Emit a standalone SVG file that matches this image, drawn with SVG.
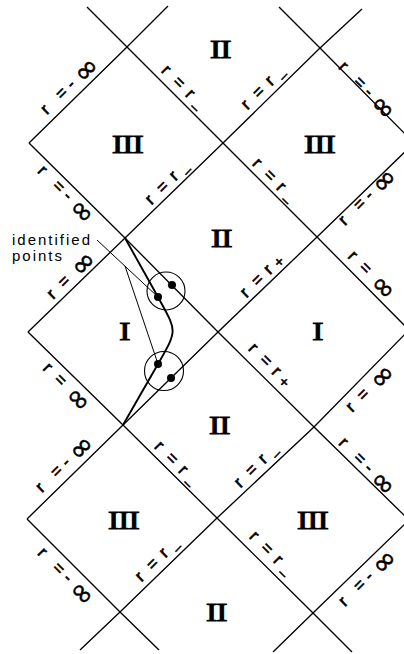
<svg xmlns="http://www.w3.org/2000/svg" width="404" height="654" viewBox="0 0 404 654">
<style>
.ln{fill:none;stroke:#000;stroke-width:1.35;stroke-linejoin:round}
.wl{fill:none;stroke:#000;stroke-width:1.9;stroke-linejoin:round}
.ld{fill:none;stroke:#000;stroke-width:1}
.cir{fill:none;stroke:#000;stroke-width:1.1}
.dot{fill:#000}
.lb{font-family:"Liberation Sans",Arial,sans-serif;font-size:17px;fill:#000;stroke:#000;stroke-width:0.6}
.inf{font-family:"DejaVu Sans",sans-serif;font-size:29px;stroke-width:0.5}
.sub{font-size:13px}
.plus{font-size:15px}
.rn{font-family:"Liberation Serif","Times New Roman",serif;font-size:25px;text-anchor:middle;letter-spacing:-1px;fill:#000;stroke:#000;stroke-width:0.8}
.note{font-family:"Liberation Sans",Arial,sans-serif;font-size:15px;letter-spacing:2px;fill:#000}
</style>
<rect width="404" height="654" fill="#fff"/>
<g id="connectors">
<polyline class="ln" points="29,143 127,47 168,6"/>
<polyline class="ln" points="28,332 125,238 223,143 320,48 362,9"/>
<polyline class="ln" points="27,519 123,425 218,332 317,237 414,143"/>
<polyline class="ln" points="80,650 120,612 217,518 314,427 409,330"/>
<polyline class="ln" points="273,652 313,613 409,520"/>
<polyline class="ln" points="87,7 127,47 223,143 317,237 409,330"/>
<polyline class="ln" points="29,143 125,238 218,332 314,427 409,520"/>
<polyline class="ln" points="28,332 123,425 217,518 313,613 352,652"/>
<polyline class="ln" points="27,519 120,612 159,650"/>
<polyline class="ln" points="279,7 320,48 414,143"/>
<path class="wl" d="M125,238 L158,297 C177,332 178,329 158,364 L123,425"/>
<path class="ld" d="M97,240 L158,297 M125,266 L158,364"/>
</g>
<g id="identified-points">
<circle class="cir" cx="166" cy="291" r="19"/>
<circle class="cir" cx="164" cy="371" r="19.5"/>
<circle class="dot" cx="158" cy="297" r="4"/>
<circle class="dot" cx="172" cy="285" r="4"/>
<circle class="dot" cx="158" cy="364" r="4"/>
<circle class="dot" cx="171" cy="378" r="4"/>
<text class="note" x="12" y="245">identified</text>
<text class="note" x="12" y="261">points</text>
</g>
<g id="regions">
<text class="rn" transform="translate(220,50) scale(1.4,1)" y="8">II</text>
<text class="rn" transform="translate(127,145) scale(1.4,1)" y="8">III</text>
<text class="rn" transform="translate(319,145) scale(1.4,1)" y="8">III</text>
<text class="rn" transform="translate(221,239) scale(1.4,1)" y="8">II</text>
<text class="rn" transform="translate(124,332) scale(1.4,1)" y="8">I</text>
<text class="rn" transform="translate(317,332) scale(1.4,1)" y="8">I</text>
<text class="rn" transform="translate(219,426) scale(1.4,1)" y="8">II</text>
<text class="rn" transform="translate(123,521) scale(1.4,1)" y="8">III</text>
<text class="rn" transform="translate(312,521) scale(1.4,1)" y="8">III</text>
<text class="rn" transform="translate(216,613) scale(1.4,1)" y="8">II</text>
</g>
<g id="labels">
<g transform="translate(68,87) rotate(-45)"><text class="lb" y="5"><tspan x="-34.8">r</tspan> <tspan x="-14">=</tspan> <tspan x="1.2">-</tspan><tspan class="inf" x="13" y="10">∞</tspan></text></g>
<g transform="translate(183,87) rotate(45)"><text class="lb" y="5"><tspan x="-26.8">r</tspan> <tspan x="-11">=</tspan> <tspan x="7.2">r</tspan><tspan class="sub" x="19.4">_</tspan></text></g>
<g transform="translate(263,88) rotate(-45)"><text class="lb" y="5"><tspan x="-26.8">r</tspan> <tspan x="-11">=</tspan> <tspan x="7.2">r</tspan><tspan class="sub" x="19.4">_</tspan></text></g>
<g transform="translate(366,89) rotate(45)"><text class="lb" y="5"><tspan x="-34.8">r</tspan> <tspan x="-14">=</tspan> <tspan x="1.2">-</tspan><tspan class="inf" x="13" y="10">∞</tspan></text></g>
<g transform="translate(65,193) rotate(45)"><text class="lb" y="5"><tspan x="-34.8">r</tspan> <tspan x="-14">=</tspan> <tspan x="1.2">-</tspan><tspan class="inf" x="13" y="10">∞</tspan></text></g>
<g transform="translate(167,183) rotate(-45)"><text class="lb" y="5"><tspan x="-26.8">r</tspan> <tspan x="-11">=</tspan> <tspan x="7.2">r</tspan><tspan class="sub" x="19.4">_</tspan></text></g>
<g transform="translate(274,180) rotate(45)"><text class="lb" y="5"><tspan x="-26.8">r</tspan> <tspan x="-11">=</tspan> <tspan x="7.2">r</tspan><tspan class="sub" x="19.4">_</tspan></text></g>
<g transform="translate(366,198) rotate(-45)"><text class="lb" y="5"><tspan x="-34.8">r</tspan> <tspan x="-14">=</tspan> <tspan x="1.2">-</tspan><tspan class="inf" x="13" y="10">∞</tspan></text></g>
<g transform="translate(70,276) rotate(-45)"><text class="lb" y="5"><tspan x="-28.8">r</tspan> <tspan x="-13">=</tspan> <tspan class="inf" x="6" y="10">∞</tspan></text></g>
<g transform="translate(262,276) rotate(-45)"><text class="lb" y="5"><tspan x="-26.8">r</tspan> <tspan x="-11">=</tspan> <tspan x="6.2">r</tspan><tspan class="plus" x="17.6" y="7">+</tspan></text></g>
<g transform="translate(371,274) rotate(45)"><text class="lb" y="5"><tspan x="-28.8">r</tspan> <tspan x="-13">=</tspan> <tspan class="inf" x="6" y="10">∞</tspan></text></g>
<g transform="translate(66,386) rotate(45)"><text class="lb" y="5"><tspan x="-28.8">r</tspan> <tspan x="-13">=</tspan> <tspan class="inf" x="6" y="10">∞</tspan></text></g>
<g transform="translate(270,365) rotate(45)"><text class="lb" y="5"><tspan x="-26.8">r</tspan> <tspan x="-11">=</tspan> <tspan x="6.2">r</tspan><tspan class="plus" x="17.6" y="7">+</tspan></text></g>
<g transform="translate(369,389) rotate(-45)"><text class="lb" y="5"><tspan x="-28.8">r</tspan> <tspan x="-13">=</tspan> <tspan class="inf" x="6" y="10">∞</tspan></text></g>
<g transform="translate(63,465) rotate(-45)"><text class="lb" y="5"><tspan x="-34.8">r</tspan> <tspan x="-14">=</tspan> <tspan x="1.2">-</tspan><tspan class="inf" x="13" y="10">∞</tspan></text></g>
<g transform="translate(176,463) rotate(45)"><text class="lb" y="5"><tspan x="-26.8">r</tspan> <tspan x="-11">=</tspan> <tspan x="7.2">r</tspan><tspan class="sub" x="19.4">_</tspan></text></g>
<g transform="translate(256,466) rotate(-45)"><text class="lb" y="5"><tspan x="-26.8">r</tspan> <tspan x="-11">=</tspan> <tspan x="7.2">r</tspan><tspan class="sub" x="19.4">_</tspan></text></g>
<g transform="translate(366,465) rotate(45)"><text class="lb" y="5"><tspan x="-34.8">r</tspan> <tspan x="-14">=</tspan> <tspan x="1.2">-</tspan><tspan class="inf" x="13" y="10">∞</tspan></text></g>
<g transform="translate(65,575) rotate(45)"><text class="lb" y="5"><tspan x="-34.8">r</tspan> <tspan x="-14">=</tspan> <tspan x="1.2">-</tspan><tspan class="inf" x="13" y="10">∞</tspan></text></g>
<g transform="translate(157,560) rotate(-45)"><text class="lb" y="5"><tspan x="-26.8">r</tspan> <tspan x="-11">=</tspan> <tspan x="7.2">r</tspan><tspan class="sub" x="19.4">_</tspan></text></g>
<g transform="translate(271,553) rotate(45)"><text class="lb" y="5"><tspan x="-26.8">r</tspan> <tspan x="-11">=</tspan> <tspan x="7.2">r</tspan><tspan class="sub" x="19.4">_</tspan></text></g>
<g transform="translate(366,579) rotate(-45)"><text class="lb" y="5"><tspan x="-34.8">r</tspan> <tspan x="-14">=</tspan> <tspan x="1.2">-</tspan><tspan class="inf" x="13" y="10">∞</tspan></text></g>
</g>
</svg>
